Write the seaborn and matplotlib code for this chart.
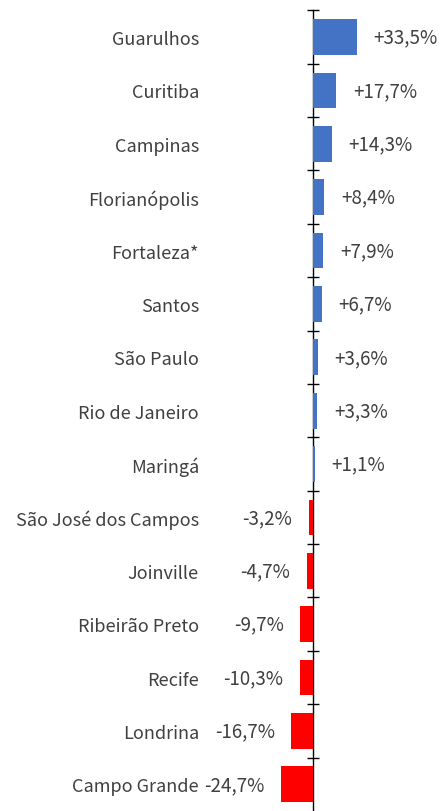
import matplotlib
matplotlib.use("Agg")
import matplotlib.pyplot as plt
import seaborn as sns
import pandas as pd

cities = ["Guarulhos", "Curitiba", "Campinas", "Florianópolis", "Fortaleza*",
          "Santos", "São Paulo", "Rio de Janeiro", "Maringá", "São José dos Campos",
          "Joinville", "Ribeirão Preto", "Recife", "Londrina", "Campo Grande"]
changes = [33.5, 17.7, 14.3, 8.4, 7.9, 6.7, 3.6, 3.3, 1.1, -3.2, -4.7, -9.7, -10.3, -16.7, -24.7]

BLUE = "#4472C4"
RED = "#FF0000"
TEXT = "#404040"

sns.set_style("white")
plt.rcParams["font.family"] = ["Noto Sans CJK JP", "DejaVu Sans"]

df = pd.DataFrame({"city": cities, "change": changes})
df["sign"] = ["pos" if v >= 0 else "neg" for v in df["change"]]

fig = plt.figure(figsize=(4.4, 8.12), dpi=100)
ax = fig.add_axes([0.468, 0.0, 0.532, 0.986])

sns.barplot(data=df, x="change", y="city", hue="sign", orient="h",
            palette={"pos": BLUE, "neg": RED}, width=0.67, dodge=False,
            saturation=1, linewidth=0, legend=False, ax=ax)

ax.set_xlim(-82, 97)
ax.set_ylim(len(cities) - 0.5, -0.5)
ax.set_xlabel("")
ax.set_ylabel("")
ax.set_xticks([])
for s in ax.spines.values():
    s.set_visible(False)
ax.tick_params(axis="y", length=0, pad=5, labelsize=13, labelcolor=TEXT)

# zero line with boundary ticks
zero = ax.secondary_yaxis(0, transform=ax.transData)
zero.set_yticks([i - 0.5 for i in range(len(cities))])
zero.set_yticklabels([])
zero.tick_params(direction="inout", length=9, width=1, color="#000000")
zero.spines["left"].set_color("#000000")
zero.spines["left"].set_linewidth(1)

for i, v in enumerate(changes):
    txt = f"{v:+.1f}%".replace(".", ",")
    if v >= 0:
        ax.annotate(txt, (v, i), xytext=(12, 0), textcoords="offset points",
                    ha="left", va="center", fontsize=13.5, color=TEXT)
    else:
        ax.annotate(txt, (v, i), xytext=(-12, 0), textcoords="offset points",
                    ha="right", va="center", fontsize=13.5, color=TEXT)

fig.savefig("out.png", dpi=100)
